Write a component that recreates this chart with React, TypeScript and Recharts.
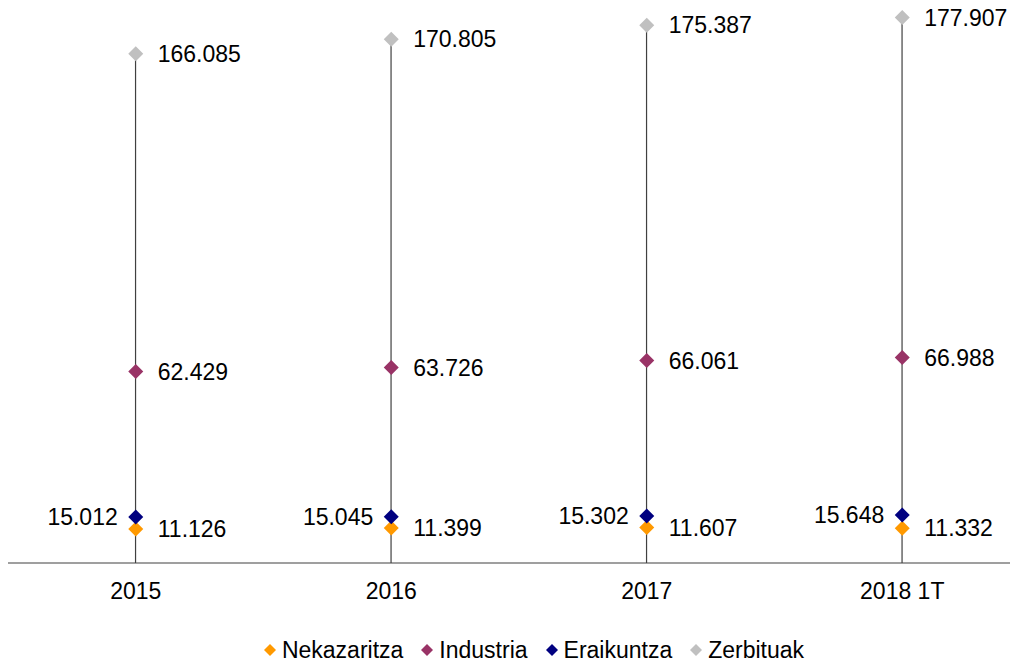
import React from "react";
import {
  ComposedChart,
  Bar,
  Line,
  XAxis,
  YAxis,
  Legend,
  LabelList,
} from "recharts";

const years = ["2015", "2016", "2017", "2018 1T"];
const nekazaritza = [11126, 11399, 11607, 11332];
const industria = [62429, 63726, 66061, 66988];
const eraikuntza = [15012, 15045, 15302, 15648];
const zerbituak = [166085, 170805, 175387, 177907];

const data = years.map((year, i) => ({
  year,
  nekazaritza: nekazaritza[i],
  industria: industria[i],
  eraikuntza: eraikuntza[i],
  zerbituak: zerbituak[i],
  top: Math.max(nekazaritza[i], industria[i], eraikuntza[i], zerbituak[i]),
}));

const fmt = (v: any) => String(v).replace(/\B(?=(\d{3})+(?!\d))/g, ".");

const Diamond = (color: string) => (props: any) => {
  const { cx, cy, index } = props;
  if (cx == null || cy == null) return <g key={index} />;
  const r = 7.5;
  return (
    <path
      key={index}
      d={`M${cx},${cy - r} L${cx + r},${cy} L${cx},${cy + r} L${cx - r},${cy} Z`}
      fill={color}
    />
  );
};

const DropLine = (props: any) => {
  const { x, y, width, height } = props;
  const cx = x + width / 2;
  return <line x1={cx} x2={cx} y1={y} y2={y + height} stroke="#404040" strokeWidth={1.2} />;
};

const series = [
  { key: "nekazaritza", name: "Nekazaritza", color: "#FF9900", pos: "right" },
  { key: "industria", name: "Industria", color: "#993366", pos: "right" },
  { key: "eraikuntza", name: "Eraikuntza", color: "#000080", pos: "left" },
  { key: "zerbituak", name: "Zerbituak", color: "#C0C0C0", pos: "right" },
];

const LegendContent = () => (
  <div style={{ display: "flex", justifyContent: "center", alignItems: "center", height: 26, paddingLeft: 60 }}>
    {series.map((s) => (
      <div key={s.key} style={{ display: "flex", alignItems: "center", marginRight: 18 }}>
        <svg width={12} height={12} style={{ marginRight: 6 }}>
          <path d="M6,0 L12,6 L6,12 L0,6 Z" fill={s.color} />
        </svg>
        <span style={{ color: "#000", fontSize: 23 }}>{s.name}</span>
      </div>
    ))}
  </div>
);

export default function App() {
  return (
    <div style={{ width: 1010, height: 655, fontFamily: "'Liberation Sans', Arial, sans-serif" }}>
      <ComposedChart
        width={1010}
        height={655}
        data={data}
        margin={{ top: 3, right: 0, bottom: 0, left: 0 }}
      >
        <XAxis
          dataKey="year"
          axisLine={{ stroke: "#404040", strokeWidth: 1.2 }}
          tickLine={false}
          tick={{ fill: "#000", fontSize: 23 }}
          tickMargin={14}
          height={74}
          padding={{ left: 0, right: -12 }}
        />
        <YAxis hide domain={[0, 180000]} />
        <Bar dataKey="top" legendType="none" shape={DropLine} isAnimationActive={false} />
        {series.map((s) => (
          <Line
            key={s.key}
            dataKey={s.key}
            name={s.name}
            stroke="none"
            fill={s.color}
            dot={Diamond(s.color)}
            activeDot={false}
            legendType="diamond"
            isAnimationActive={false}
          >
            <LabelList
              dataKey={s.key}
              position={s.pos as any}
              offset={s.pos === "left" ? 18 : 22}
              formatter={fmt}
              style={{ fill: "#000", fontSize: 23 }}
            />
          </Line>
        ))}
        <Legend verticalAlign="bottom" height={26} content={LegendContent} />
      </ComposedChart>
    </div>
  );
}
